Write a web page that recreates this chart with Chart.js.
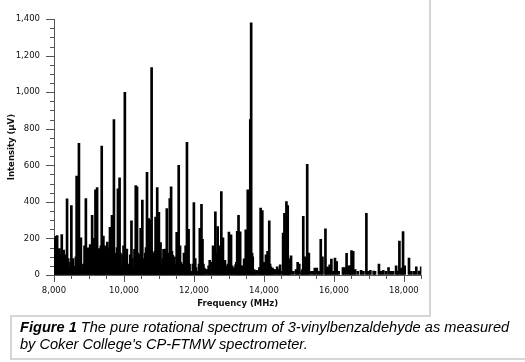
<!DOCTYPE html>
<html>
<head>
<meta charset="utf-8">
<script src="https://cdn.jsdelivr.net/npm/chart.js@4"></script>
<style>
  body { margin: 0; background: #fff; }
  #wrap { position: relative; width: 525px; height: 362px; overflow: hidden; }
  #c { position: absolute; left: 0; top: 0; }
  .ln { position: absolute; background: #d6d6d6; }
  #caption {
    position: absolute; left: 20px; top: 319px; white-space: nowrap;
    font-family: "Liberation Sans", Arial, sans-serif; font-style: italic;
    font-size: 14.6px; line-height: 17px; color: #000;
  }
</style>
</head>
<body>
<div id="wrap">
  <canvas id="c" width="430" height="315"></canvas>
  <div class="ln" style="left:429px;top:0;width:2px;height:316px"></div>
  <div class="ln" style="left:10px;top:315px;width:421px;height:2px"></div>
  <div class="ln" style="left:10px;top:315px;width:2px;height:45px"></div>
  <div class="ln" style="left:10px;top:358px;width:515px;height:2px"></div>
  <div id="caption"><b>Figure 1</b> The pure rotational spectrum of 3-vinylbenzaldehyde as measured<br>by Coker College's CP-FTMW spectrometer.</div>
</div>
<script>
// line positions (MHz) and intensities (uV)
let freqs = [
  8005, 8030, 8060, 8090, 8125, 8156, 8190, 8222, 8250, 8279, 8310, 8345, 8373, 8405, 8439, 8470, 8496, 8520, 8543, 8570,
  8600, 8625, 8647, 8680, 8713, 8740, 8769, 8807, 8840, 8873, 8911, 8940, 8968, 9000, 9034, 9060, 9090, 9138, 9160, 9185,
  9210, 9232, 9260, 9289, 9320, 9340, 9364, 9390, 9411, 9440, 9468, 9500, 9525, 9560, 9600, 9630, 9657, 9685, 9713, 9740,
  9770, 9800, 9827, 9850, 9874, 9900, 9931, 9960, 9987, 10025, 10055, 10082, 10115, 10148, 10180, 10214, 10240, 10270, 10300, 10337,
  10374, 10400, 10431, 10450, 10478, 10525, 10550, 10573, 10610, 10630, 10658, 10680, 10705, 10735, 10761, 10790, 10820, 10856, 10880, 10903,
  10930, 10950, 10975, 10998, 11020, 11045, 11070, 11092, 11110, 11130, 11155, 11177, 11200, 11224, 11250, 11271, 11290, 11309, 11330, 11347,
  11370, 11394, 11420, 11441, 11470, 11507, 11535, 11564, 11585, 11602, 11630, 11658, 11690, 11715, 11740, 11762, 11780, 11800, 11825, 11847,
  11875, 11904, 11942, 11970, 11998, 12036, 12060, 12083, 12121, 12145, 12168, 12190, 12215, 12244, 12270, 12300, 12340, 12385, 12420, 12451,
  12475, 12498, 12520, 12546, 12580, 12612, 12645, 12678, 12700, 12725, 12755, 12782, 12805, 12829, 12860, 12886, 12915, 12942, 12970, 13000,
  13030, 13060, 13090, 13113, 13150, 13189, 13210, 13236, 13255, 13274, 13300, 13321, 13350, 13378, 13405, 13434, 13460, 13481, 13510, 13538,
  13570, 13610, 13635, 13660, 13680, 13720, 13755, 13790, 13831, 13870, 13906, 13930, 13953, 13980, 14001, 14030, 14057, 14080, 14104, 14130,
  14152, 14175, 14199, 14246, 14280, 14322, 14378, 14420, 14463, 14510, 14548, 14586, 14615, 14643, 14680, 14705, 14728, 14775, 14841, 14916,
  14964, 15011, 15077, 15100, 15124, 15171, 15210, 15237, 15284, 15341, 15407, 15454, 15511, 15568, 15624, 15672, 15758, 15786, 15833, 15880,
  15928, 15984, 16031, 16079, 16135, 16258, 16305, 16362, 16418, 16466, 16503, 16551, 16607, 16683, 16777, 16843, 16928, 16985, 17042, 17136,
  17174, 17287, 17344, 17410, 17485, 17561, 17627, 17693, 17778, 17816, 17872, 17929, 17976, 18023, 18146, 18212, 18288, 18354, 18429, 18495
];
let intensity = [
  180, 203, 212, 216, 140, 144, 110, 221, 130, 137, 60, 111, 417, 90, 40, 70, 380, 60, 90, 50,
  30, 100, 541, 200, 720, 90, 204, 30, 60, 160, 418, 120, 148, 100, 166, 120, 326, 200, 150, 466,
  160, 478, 130, 145, 120, 160, 705, 150, 213, 140, 160, 130, 180, 150, 261, 180, 326, 200, 850, 120,
  55, 150, 471, 200, 532, 120, 48, 110, 160, 1000, 80, 142, 60, 38, 110, 296, 90, 38, 140, 489,
  483, 120, 55, 110, 256, 410, 90, 38, 120, 150, 562, 200, 308, 160, 300, 1135, 120, 55, 130, 317,
  150, 478, 160, 343, 130, 177, 60, 29, 90, 140, 110, 142, 130, 364, 110, 95, 120, 418, 150, 483,
  130, 107, 90, 100, 60, 233, 120, 600, 110, 160, 70, 29, 60, 120, 110, 160, 90, 726, 100, 250,
  60, 20, 20, 60, 396, 90, 40, 20, 20, 60, 256, 120, 387, 195, 60, 38, 30, 29, 50, 80,
  60, 55, 70, 160, 110, 345, 120, 265, 110, 160, 100, 457, 110, 204, 60, 80, 50, 38, 60, 235,
  90, 220, 50, 29, 40, 55, 70, 239, 100, 326, 110, 236, 50, 38, 50, 88, 60, 247, 100, 466,
  247, 850, 1380, 120, 100, 30, 20, 25, 20, 40, 366, 120, 352, 50, 70, 60, 110, 90, 130, 70,
  296, 60, 45, 38, 30, 29, 45, 30, 55, 20, 230, 338, 150, 401, 380, 90, 75, 105, 20, 29,
  70, 60, 20, 30, 321, 100, 60, 606, 120, 20, 20, 38, 38, 20, 195, 100, 253, 38, 45, 55,
  87, 20, 92, 73, 20, 40, 40, 118, 50, 50, 133, 130, 29, 20, 25, 20, 338, 20, 25, 22,
  20, 60, 20, 25, 20, 40, 20, 20, 50, 22, 185, 38, 237, 50, 92, 20, 20, 45, 22, 45
];
let xTicks = [8000, 10000, 12000, 14000, 16000, 18000];
let yTicks = [0, 200, 400, 600, 800, 1000, 1200, 1400];

let axisColor = "#555";
let tickFont = { family: "DejaVu Sans", size: 8.5 };
let titleFont = { family: "DejaVu Sans", size: 8.5, weight: "bold" };

// major / minor tick marks drawn from the scales
let tickMarks = {
  id: "tickMarks",
  afterDraw(chart) {
    let ctx = chart.ctx;
    let xs = chart.scales.x, ys = chart.scales.y;
    ctx.save();
    ctx.strokeStyle = axisColor;
    ctx.lineWidth = 1;
    ctx.beginPath();
    for (let v = xs.min; v <= xs.max; v += 500) {
      let px = Math.round(xs.getPixelForValue(v)) + 0.5;
      let len = v % 2000 === 0 ? 7 : 4;
      ctx.moveTo(px, ys.bottom);
      ctx.lineTo(px, ys.bottom + len);
    }
    for (let v = ys.min; v <= ys.max; v += 50) {
      let py = Math.round(ys.getPixelForValue(v)) + 0.5;
      let len = v % 200 === 0 ? 8 : 4;
      ctx.moveTo(xs.left, py);
      ctx.lineTo(xs.left - len, py);
    }
    ctx.stroke();
    ctx.restore();
  }
};

new Chart(document.getElementById("c"), {
  type: "bar",
  data: {
    datasets: [{
      data: freqs.map((f, i) => ({ x: f, y: intensity[i] })),
      backgroundColor: "#000",
      barThickness: 2,
      borderWidth: 0
    }]
  },
  options: {
    responsive: false,
    animation: false,
    layout: { padding: { top: 8, right: 5, left: 0, bottom: 0 } },
    plugins: { legend: { display: false }, tooltip: { enabled: false } },
    scales: {
      x: {
        type: "linear",
        min: 8000,
        max: 18500,
        offset: false,
        afterBuildTicks: s => { s.ticks = xTicks.map(v => ({ value: v })); },
        afterFit: s => { s.height = 40; },
        grid: { display: true, drawOnChartArea: false, drawTicks: false, offset: false },
        border: { color: axisColor, width: 1 },
        ticks: {
          font: tickFont, color: "#111", padding: 11, maxRotation: 0,
          callback: v => v.toLocaleString("en-US")
        },
        title: { display: true, text: "Frequency (MHz)", font: titleFont, color: "#111", padding: { top: 0, bottom: 6 } }
      },
      y: {
        min: 0,
        max: 1400,
        afterBuildTicks: s => { s.ticks = yTicks.map(v => ({ value: v })); },
        afterFit: s => { s.width = 54; },
        grid: { display: true, drawOnChartArea: false, drawTicks: false },
        border: { color: axisColor, width: 1 },
        ticks: {
          font: tickFont, color: "#111", padding: 14,
          callback: v => v.toLocaleString("en-US")
        },
        title: { display: true, text: "Intensity (µV)", font: titleFont, color: "#111", padding: { top: 7, bottom: 0 } }
      }
    }
  },
  plugins: [tickMarks]
});
</script>
</body>
</html>
